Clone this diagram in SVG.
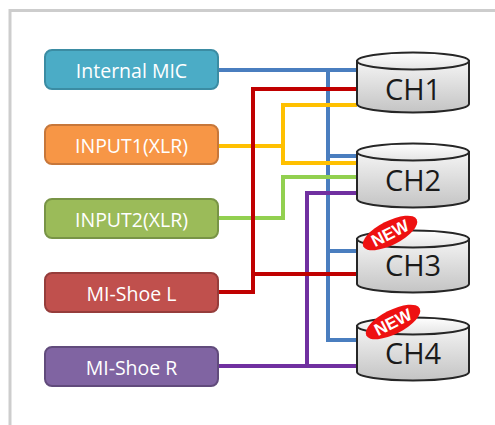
<svg xmlns="http://www.w3.org/2000/svg" width="495" height="425" viewBox="0 0 495 425">
<defs>
<linearGradient id="cyl" x1="0" y1="0" x2="0" y2="1">
<stop offset="0" stop-color="#f4f4f4"/>
<stop offset="1" stop-color="#c4c4c4"/>
</linearGradient>
<linearGradient id="cyltop" x1="0" y1="0" x2="0" y2="1">
<stop offset="0" stop-color="#ffffff"/>
<stop offset="1" stop-color="#e4e4e4"/>
</linearGradient>
<style>
.box{stroke-width:2}
.lbl{font-family:"Open Sans","Noto Sans",sans-serif;font-size:19.5px;fill:#ffffff;text-anchor:middle}
.ch{font-family:"Open Sans","Noto Sans",sans-serif;font-size:29px;fill:#1a1a1a;text-anchor:middle}
.cyl{fill:url(#cyl);stroke:#262626;stroke-width:2}
.cyltop{fill:url(#cyltop);stroke:#262626;stroke-width:2}
.w{fill:none;stroke-width:4;stroke-linejoin:miter}
.new{font-family:"Liberation Sans",Arial,sans-serif;font-weight:bold;font-size:17px;fill:#ffffff;text-anchor:middle}
</style>
</defs>
<rect width="495" height="425" fill="#ffffff"/>
<path d="M10,425 V10.5 H495" fill="none" stroke="#cdcdcd" stroke-width="3"/>

<g id="connectors">
<path class="w" stroke="#4a7ebf" d="M218,70 H357 M328,70 V340 H357 M328,156 H357 M328,251 H357"/>
<path class="w" stroke="#7030a0" d="M218,366 H357 M307,366 V193 H357"/>
<path class="w" stroke="#92d050" d="M218,218 H283 V177 H357"/>
<path class="w" stroke="#ffc000" d="M218,146 H283 M357,105 H283 V163 H357"/>
<path class="w" stroke="#c00000" d="M218,292 H253 V89 H357 M253,274 H357"/>
</g>

<g id="internal-mic">
<rect class="box" x="45" y="50" width="173" height="39" rx="7" fill="#4bacc6" stroke="#3b8ca3"/>
<text class="lbl" x="131.5" y="77.5">Internal MIC</text>
</g>
<g id="input1">
<rect class="box" x="45" y="125" width="173" height="39" rx="7" fill="#f79646" stroke="#c7773a"/>
<text class="lbl" x="131.5" y="152.5">INPUT1(XLR)</text>
</g>
<g id="input2">
<rect class="box" x="45" y="199" width="173" height="39" rx="7" fill="#9bbb59" stroke="#789446"/>
<text class="lbl" x="131.5" y="226.5">INPUT2(XLR)</text>
</g>
<g id="mi-shoe-l">
<rect class="box" x="45" y="273" width="173" height="39" rx="7" fill="#c0504d" stroke="#963d3b"/>
<text class="lbl" x="131.5" y="300.5">MI-Shoe L</text>
</g>
<g id="mi-shoe-r">
<rect class="box" x="45" y="347" width="173" height="39" rx="7" fill="#8064a2" stroke="#614b7c"/>
<text class="lbl" x="131.5" y="374.5">MI-Shoe R</text>
</g>

<g id="ch1">
<path class="cyl" d="M357,61 V104 A56,8.5 0 0 0 469,104 V61 Z"/>
<ellipse class="cyltop" cx="413" cy="61" rx="56" ry="8.5"/>
<text class="ch" x="413" y="100">CH1</text>
</g>
<g id="ch2">
<path class="cyl" d="M357,152 V199 A56,8.5 0 0 0 469,199 V152 Z"/>
<ellipse class="cyltop" cx="413" cy="152" rx="56" ry="8.5"/>
<text class="ch" x="413" y="191">CH2</text>
</g>
<g id="ch3">
<path class="cyl" d="M357,239 V284 A56,8.5 0 0 0 469,284 V239 Z"/>
<ellipse class="cyltop" cx="413" cy="239" rx="56" ry="8.5"/>
<text class="ch" x="413" y="276">CH3</text>
<g transform="translate(390,233) rotate(-27)">
<ellipse cx="0" cy="0" rx="30" ry="12" fill="#ee1111"/>
<text class="new" x="0" y="6">NEW</text>
</g>
</g>
<g id="ch4">
<path class="cyl" d="M357,326 V372 A56,8.5 0 0 0 469,372 V326 Z"/>
<ellipse class="cyltop" cx="413" cy="326" rx="56" ry="8.5"/>
<text class="ch" x="413" y="364">CH4</text>
<g transform="translate(393,322) rotate(-27)">
<ellipse cx="0" cy="0" rx="30" ry="12" fill="#ee1111"/>
<text class="new" x="0" y="6">NEW</text>
</g>
</g>
</svg>
